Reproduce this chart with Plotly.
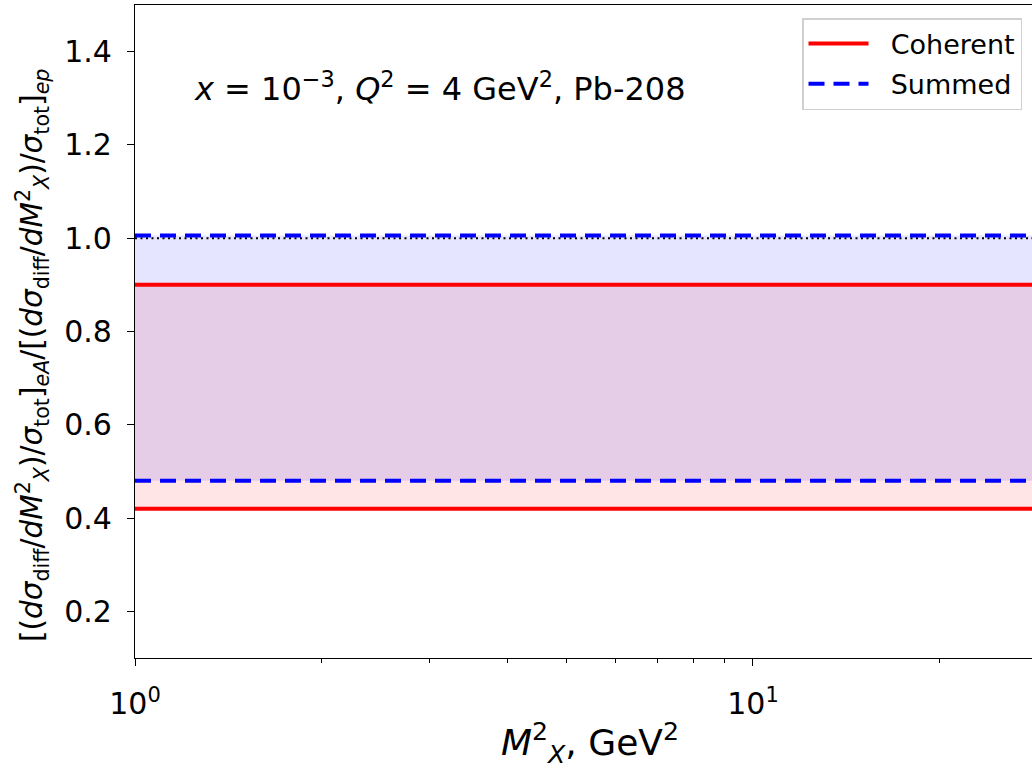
import plotly.graph_objects as go

# Data
m2 = [1.0, 30.0]
coherent_low = [0.42, 0.42]
coherent_high = [0.90, 0.90]
summed_low = [0.48, 0.48]
summed_high = [1.006, 1.006]
reference = [1.0, 1.0]

xtick_vals = [1, 10]
xtick_text = ["10<sup>0</sup>", "10<sup>1</sup>"]
xminor_vals = [2, 3, 4, 5, 6, 7, 8, 9, 20]
ytick_vals = [0.2, 0.4, 0.6, 0.8, 1.0, 1.2, 1.4]
ytick_text = ["0.2", "0.4", "0.6", "0.8", "1.0", "1.2", "1.4"]

FONT = "DejaVu Sans"
RED = "#ff0000"
BLUE = "#0000ff"
PAD = "\u00a0\u00a0"

fig = go.Figure()

# bands
fig.add_trace(go.Scatter(
    x=m2 + m2[::-1], y=coherent_high + coherent_low[::-1],
    fill="toself", fillcolor="rgba(255,0,0,0.1)", line=dict(width=0),
    mode="lines", showlegend=False, hoverinfo="skip"))
fig.add_trace(go.Scatter(
    x=m2 + m2[::-1], y=summed_high + summed_low[::-1],
    fill="toself", fillcolor="rgba(0,0,255,0.1)", line=dict(width=0),
    mode="lines", showlegend=False, hoverinfo="skip"))

# reference dotted line
fig.add_trace(go.Scatter(
    x=m2, y=reference, mode="lines",
    line=dict(color="black", width=2, dash="2px,3.5px"),
    showlegend=False, hoverinfo="skip"))

# coherent lines
fig.add_trace(go.Scatter(
    x=m2, y=coherent_high, mode="lines", name=PAD + "Coherent",
    line=dict(color=RED, width=4), legendgroup="c"))
fig.add_trace(go.Scatter(
    x=m2, y=coherent_low, mode="lines", name=PAD + "Coherent",
    line=dict(color=RED, width=4), legendgroup="c", showlegend=False))

# summed lines
fig.add_trace(go.Scatter(
    x=m2, y=summed_high, mode="lines", name=PAD + "Summed",
    line=dict(color=BLUE, width=4, dash="16px,9px"), legendgroup="s"))
fig.add_trace(go.Scatter(
    x=m2, y=summed_low, mode="lines", name=PAD + "Summed",
    line=dict(color=BLUE, width=4, dash="16px,9px"), legendgroup="s", showlegend=False))

W, H = 1032, 768
L, R, T, B = 135, 0, 5, 110
pw = W - L - R
ph = H - T - B


def px_x(px):
    return (px - L) / pw


def px_y(py):
    return 1 - (py - T) / ph


ytitle = ("[(<i>dσ</i><sub>diff</sub>/<i>dM</i><sup>2</sup><sub><i>X</i></sub>)/<i>σ</i><sub>tot</sub>]<sub><i>eA</i></sub>"
          "/[(<i>dσ</i><sub>diff</sub>/<i>dM</i><sup>2</sup><sub><i>X</i></sub>)/<i>σ</i><sub>tot</sub>]<sub><i>ep</i></sub>")

fig.update_layout(
    width=W, height=H,
    margin=dict(l=L, r=R, t=T, b=B),
    paper_bgcolor="white", plot_bgcolor="white",
    font=dict(family=FONT, color="black", size=20),
    showlegend=True,
    legend=dict(
        x=px_x(802), y=px_y(18), xanchor="left", yanchor="top",
        bgcolor="white", bordercolor="#d0d0d0", borderwidth=1.5,
        font=dict(family=FONT, size=27, color="black"),
        tracegroupgap=2, itemwidth=60,
    ),
    xaxis=dict(
        type="log", range=[0, 1.4515],
        showgrid=False, zeroline=False,
        showline=True, linecolor="black", linewidth=1.3, mirror=True,
        ticks="outside", ticklen=7, tickwidth=1.3, tickcolor="black",
        tickmode="array", tickvals=xtick_vals, ticktext=xtick_text,
        tickfont=dict(family=FONT, size=30), ticklabelstandoff=12,
        minor=dict(tickmode="array", tickvals=xminor_vals, ticks="outside",
                   ticklen=4, tickwidth=1, tickcolor="black", showgrid=False),
    ),
    yaxis=dict(
        range=[0.1, 1.5],
        showgrid=False, zeroline=False,
        showline=True, linecolor="black", linewidth=1.3, mirror=False,
        ticks="outside", ticklen=7, tickwidth=1.3, tickcolor="black",
        tickmode="array", tickvals=ytick_vals, ticktext=ytick_text,
        tickfont=dict(family=FONT, size=30), ticklabelstandoff=9,
    ),
    annotations=[
        dict(text="<i>x</i> = 10<sup>−3</sup>, <i>Q</i><sup>2</sup> = 4 GeV<sup>2</sup>, Pb-208",
             xref="paper", yref="paper", x=px_x(192), y=px_y(87),
             xanchor="left", yanchor="middle", showarrow=False,
             font=dict(family=FONT, size=32, color="black")),
        dict(text="<i>M</i><sup>2</sup><sub><i>X</i></sub>, GeV<sup>2</sup>",
             xref="paper", yref="paper", x=px_x(590), y=px_y(743),
             xanchor="center", yanchor="middle", showarrow=False,
             font=dict(family=FONT, size=36, color="black")),
        dict(text=ytitle, textangle=-90,
             xref="paper", yref="paper", x=px_x(32), y=px_y(356),
             xanchor="center", yanchor="middle", showarrow=False,
             font=dict(family=FONT, size=29.5, color="black")),
    ],
)

fig.write_html("out.html")
